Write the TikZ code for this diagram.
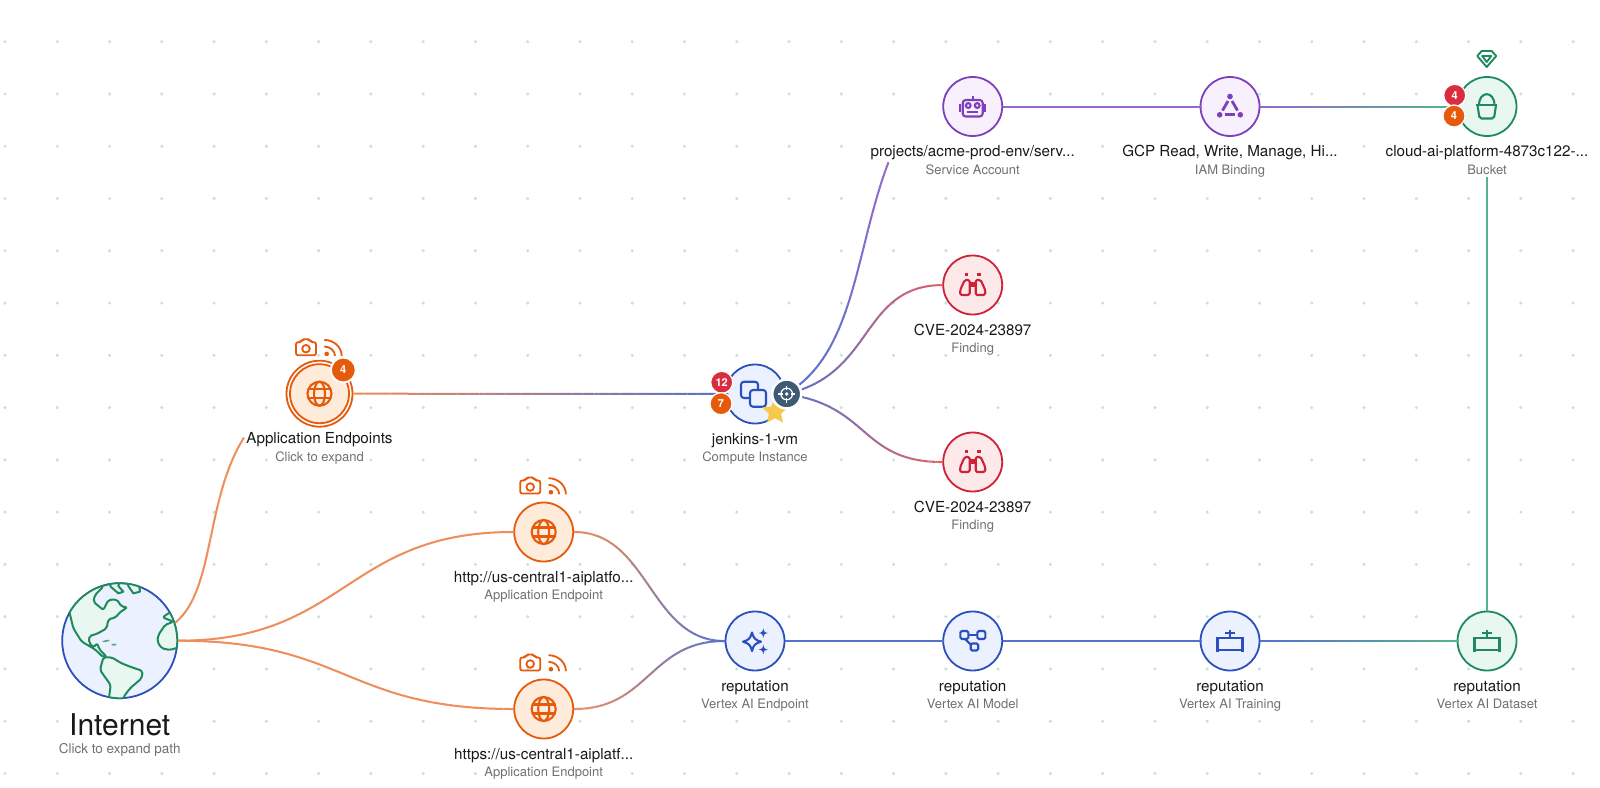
\documentclass[tikz,border=0pt]{standalone}
\usepackage{fontspec}
\setmainfont{TeX Gyre Heros}
\usetikzlibrary{calc,shapes.geometric,decorations.markings}

\definecolor{objblue}{HTML}{2B50BE}
\definecolor{objbluefill}{HTML}{EBF1FE}
\definecolor{objorange}{HTML}{E65A0C}
\definecolor{objorangefill}{HTML}{FFEBD9}
\definecolor{objpurple}{HTML}{7C3FBD}
\definecolor{objpurplefill}{HTML}{F8F1FD}
\definecolor{objred}{HTML}{CE2238}
\definecolor{objredfill}{HTML}{FDE9EA}
\definecolor{objgreen}{HTML}{1F8A5E}
\definecolor{objgreenfill}{HTML}{E8F7EF}
\definecolor{linkblue}{HTML}{5670CC}
\definecolor{linkorange}{HTML}{EE8C5A}
\definecolor{linkpurple}{HTML}{9468CC}
\definecolor{linkred}{HTML}{DB5F6B}
\definecolor{linkgreen}{HTML}{55B48C}
\definecolor{griddot}{HTML}{BFE6DC}
\definecolor{badgered}{HTML}{D92D3F}
\definecolor{badgeslate}{HTML}{3F5A73}
\definecolor{starcolor}{HTML}{F5C94A}
\definecolor{kindgray}{HTML}{707070}

\tikzset{
  objcircle/.style={circle,draw=#1,fill=#1fill,line width=1.8pt,minimum size=59pt,inner sep=0pt},
  titletext/.style={fill=white,anchor=base,inner sep=1pt,text=black!90,font=\fontsize{15.2}{15}\selectfont},
  kindtext/.style={fill=white,anchor=base,inner sep=1pt,text=kindgray,font=\fontsize{13}{13}\selectfont},
  badge/.style={circle,fill=#1,draw=white,line width=1.2pt,minimum size=22pt,inner sep=0pt,text=white,
    font=\fontsize{11}{11}\bfseries\selectfont},
  pics/globeicon/.style={code={
    \draw (0,0) circle (12);
    \draw (0,0) ellipse (5.5 and 12);
    \draw (-11,-4.5) -- (11,-4.5);
    \draw (-11,4.5) -- (11,4.5);
  }},
  pics/camicon/.style={code={
    \draw[rounded corners=2pt] (-10,-5) -- (-5,-5) -- (-3.5,-8) -- (3.5,-8) -- (5,-5) -- (10,-5) -- (10,8) -- (-10,8) -- cycle;
    \draw (0,1.5) circle (3.8);
  }},
  pics/rssicon/.style={code={
    \fill (-6.3,6.7) circle (2.3);
    \draw (-8.7,-.7) .. controls (-3,-.7) and (2,3.5) .. (2,8.7);
    \draw (-8.7,-7.3) .. controls (1,-7.3) and (8.7,0) .. (8.7,8.7);
  }},
  pics/roboticon/.style={code={
    \draw[rounded corners=3pt] (-10,-6.5) rectangle (10,10);
    \draw (-4.5,-1) circle (2.4);
    \draw (4.5,-1) circle (2.4);
    \draw (-5.5,5.5) -- (5.5,5.5);
    \draw (0,-6.5) -- (0,-11);
    \draw (-12.5,-3) -- (-12.5,5);
    \draw (12.5,-3) -- (12.5,5);
  }},
  pics/trianicon/.style={code={
    \fill (0,-10) circle (2.8);
    \fill (-10.3,8.3) circle (2.8);
    \fill (10.3,8.3) circle (2.8);
    \draw[line width=2.8pt] (-2,-5.5) -- (-7.5,4);
    \draw[line width=2.8pt] (2,-5.5) -- (7.5,4);
    \draw[line width=2.8pt] (-5,8.3) -- (5,8.3);
  }},
  pics/bucketicon/.style={code={
    \draw (-11,-1.3) -- (10,-1.3);
    \draw[rounded corners=2pt] (-9.5,-1.3) -- (-7.5,12) -- (7,12) -- (9,-1.3);
    \draw (-8,-1.3) .. controls (-8,-16) and (7.5,-16) .. (7.5,-1.3);
  }},
  pics/gemicon/.style={code={
    \draw[line join=round] (-9.5,-3) -- (-5,-8) -- (5,-8) -- (9.5,-3) -- (0,8) -- cycle;
    \draw[line join=round] (-4.5,-3) -- (0,3) -- (4.5,-3) -- cycle;
  }},
  pics/binocicon/.style={code={
    \draw[rounded corners=1.5pt,line join=round] (-3,10) -- (-3,-5) -- (-8,-5) -- (-12.5,5) -- (-12.5,10) -- cycle;
    \draw[rounded corners=1.5pt,line join=round] (3,10) -- (3,-5) -- (8,-5) -- (12.5,5) -- (12.5,10) -- cycle;
    \draw[line width=2.6pt] (-8,-10.5) -- (-4.5,-10.5);
    \draw[line width=2.6pt] (8,-10.5) -- (4.5,-10.5);
    \fill (-3,-3) rectangle (3,2);
  }},
  pics/copyicon/.style={code={
    \draw[rounded corners=3pt] (-5,-4) rectangle (11,12.7);
    \draw[rounded corners=3pt] (3,-4) -- (3,-12.3) -- (-14,-12.3) -- (-14,4) -- (-5,4);
  }},
  pics/sparkicon/.style={code={
    \draw[line join=round] (-3,-8.5) .. controls (-1.5,-3) and (0,-1) .. (6,.7)
      .. controls (0,2.5) and (-1.5,4) .. (-3,10)
      .. controls (-4.5,4) and (-6,2.5) .. (-12,.7)
      .. controls (-6,-1) and (-4.5,-3) .. cycle;
    \fill (8.3,-13) .. controls (8.8,-9.5) and (9.5,-8.5) .. (13,-8)
      .. controls (9.5,-7.5) and (8.8,-6.5) .. (8.3,-3)
      .. controls (7.8,-6.5) and (7.1,-7.5) .. (3.6,-8)
      .. controls (7.1,-8.5) and (7.8,-9.5) .. cycle;
    \fill (8.3,3.5) .. controls (8.8,7) and (9.5,8) .. (13,8.5)
      .. controls (9.5,9) and (8.8,10) .. (8.3,13.5)
      .. controls (7.8,10) and (7.1,9) .. (3.6,8.5)
      .. controls (7.1,8) and (7.8,7) .. cycle;
  }},
  pics/modelicon/.style={code={
    \draw[rounded corners=1.5pt] (-12.3,-10) rectangle (-4.3,-2);
    \draw[rounded corners=1.5pt] (4.7,-10) rectangle (12.7,-2);
    \draw[rounded corners=1.5pt] (-2,2.5) rectangle (5.5,9.5);
    \draw (-4.3,-6) -- (4.7,-6);
    \draw (-7.5,-2) -- (-2,3.5);
  }},
  pics/pipeicon/.style={code={
    \draw (-12.5,-3) -- (12.5,-3);
    \draw (-12.5,8.7) -- (12.5,8.7);
    \draw (-12.5,-4.5) -- (-12.5,10.5);
    \draw (12.5,-4.5) -- (12.5,10.5);
    \draw (0,-11.5) -- (0,-3);
    \draw (-5,-8) -- (5,-8);
  }},
  pics/targeticon/.style={code={
    \draw (0,0) circle (5.8);
    \fill (0,0) circle (1.8);
    \draw (0,-8.5) -- (0,-4);
    \draw (0,8.5) -- (0,4);
    \draw (-8.5,0) -- (-4,0);
    \draw (8.5,0) -- (4,0);
  }},
}

% circle with its icon and the two text lines under it
\newcommand{\objnode}[6]{
  \node[objcircle=#3] (#1) at (#2) {};
  \pic[color=#3,line width=2.1pt] at (#1) {#4};
  \node[titletext] (#1title) at ($(#1)+(0,50)$) {#5};
  \node[kindtext] (#1kind) at ($(#1)+(0,67.5)$) {#6};
}
% camera and feed icons above an endpoint
\newcommand{\feedicons}[1]{
  \pic[color=objorange,line width=1.8pt] at ($(#1)+(-13.5,-46.5)$) {camicon};
  \pic[color=objorange,line width=1.8pt] at ($(#1)+(13.5,-46.5)$) {rssicon};
}
% connector whose colour runs from #1 to #2 along path #3
\newcommand{\fadelink}[3]{
  \path[decorate,decoration={markings,
    mark=between positions 0 and 1 step 0.01 with {
      \pgfmathsetlengthmacro\seglen{0.0105*\pgfdecoratedpathlength}
      \pgfmathtruncatemacro\mixval{min(100,\pgfkeysvalueof{/pgf/decoration/mark info/sequence number})}
      \draw[line width=2pt,#2!\mixval!#1] (0,0) -- (\seglen,0);
    }}] #3;
}

\begin{document}
\begin{tikzpicture}[x=1pt,y=-1pt]
  \useasboundingbox (0,0) rectangle (1600,787);
  \fill[white] (0,0) rectangle (1600,787);

  % background dots
  \foreach \i in {0,...,30}
    \foreach \j in {0,...,14}
      \fill[griddot] ({5+52.27*\i},{41.7+52.27*\j}) circle (1.7);

  % internet
  \node[circle,draw=objblue,fill=objbluefill,line width=1.8pt,minimum size=115pt,inner sep=0pt] (inet) at (119.7,640.7) {};
  \begin{scope}[shift={(40,560)},x=.3333pt,y=-.3333pt]
    \clip (239,242) circle (173);
    \draw[objgreen,fill=objgreenfill,line width=2pt,line join=round,rounded corners=2pt]
      (88,155) -- (100,205) -- (125,245) -- (165,268) -- (190,292) -- (200,290) -- (178,268) -- (172,250) -- (160,262)
      -- (147,248) -- (148,228) -- (170,222) -- (200,205) -- (205,178) -- (228,172) -- (238,158) -- (262,142) -- (245,140)
      -- (230,118) -- (205,120) -- (190,150) -- (160,125) -- (165,105) -- (190,80) -- (185,50) -- (60,100) -- cycle;
    \draw[objgreen,fill=objgreenfill,line width=2pt,line join=round,rounded corners=2pt]
      (190,292) -- (215,292) -- (245,310) -- (270,320) -- (308,333) -- (305,355) -- (270,385) -- (250,412) -- (250,430)
      -- (205,430) -- (212,375) -- (180,330) -- cycle;
    \draw[objgreen,fill=objgreenfill,line width=2pt,line join=round]
      (208,60) -- (212,80) -- (235,100) -- (250,95) -- (235,78) -- (240,60) -- cycle;
    \draw[objgreen,fill=objgreenfill,line width=2pt,line join=round]
      (262,60) -- (265,78) -- (280,100) -- (300,95) -- (295,60) -- cycle;
    \draw[objgreen,fill=objgreenfill,line width=2pt,line join=round,rounded corners=2pt]
      (430,150) -- (388,158) -- (368,172) -- (400,185) -- (375,195) -- (355,225) -- (352,245) -- (365,265) -- (390,270) -- (430,258) -- cycle;
    \fill[objgreen!70!objgreenfill,rotate around={12:(198,243)}] (198,243) ellipse (11 and 3);
    \fill[objgreen!70!objgreenfill] (222,254) ellipse (8 and 3);
  \end{scope}
  % green rim where the land meets the edge
  \foreach \a/\b/\c/\d in {60/570/141/612, 160/612/180/648, 108/680/124/700} {
    \begin{scope}
      \clip (\a,\b) rectangle (\c,\d);
      \draw[objgreen,line width=1.8pt] (inet) circle (57.5);
    \end{scope}
  }
  \node[titletext,font=\fontsize{30}{30}\selectfont] (inettitle) at ($(inet)+(0,94.5)$) {Internet};
  \node[kindtext,font=\fontsize{13.5}{13}\selectfont] (inetkind) at ($(inet)+(0,113)$) {Click to expand path};

  % application endpoints
  \node[objcircle=objorange,fill=white,minimum size=66pt] (appring) at (319.5,393.7) {};
  \objnode{app}{319.5,393.7}{objorange}{globeicon}{Application Endpoints}{Click to expand}
  \feedicons{app}
  \node[badge=objorange,line width=2pt,minimum size=25pt] (appbadge) at (343.3,370) {4};

  \objnode{http}{543.7,532}{objorange}{globeicon}{http://us-central1-aiplatfo...}{Application Endpoint}
  \feedicons{http}
  \objnode{https}{543.7,709}{objorange}{globeicon}{https://us-central1-aiplatf...}{Application Endpoint}
  \feedicons{https}

  % jenkins
  \objnode{vm}{755,394}{objblue}{copyicon}{jenkins-1-vm}{Compute Instance}

  % top row
  \objnode{sa}{972.7,106.5}{objpurple}{roboticon}{projects/acme-prod-env/serv...}{Service Account}
  \objnode{iam}{1230,106.5}{objpurple}{trianicon}{GCP Read, Write, Manage, Hi...}{IAM Binding}
  \objnode{bucket}{1487,106.5}{objgreen}{bucketicon}{cloud-ai-platform-4873c122-...}{Bucket}
  \pic[color=objgreen,line width=1.9pt] at (1486.7,59) {gemicon};

  % findings
  \objnode{cveup}{972.7,285}{objred}{binocicon}{CVE-2024-23897}{Finding}
  \objnode{cvedown}{972.7,462}{objred}{binocicon}{CVE-2024-23897}{Finding}

  % vertex row
  \objnode{endpoint}{755,641}{objblue}{sparkicon}{reputation}{Vertex AI Endpoint}
  \objnode{model}{972.7,641}{objblue}{modelicon}{reputation}{Vertex AI Model}
  \objnode{training}{1230,641}{objblue}{pipeicon}{reputation}{Vertex AI Training}
  \objnode{dataset}{1487,641}{objgreen}{pipeicon}{reputation}{Vertex AI Dataset}

  % free ends of the connectors that stop at a label
  \coordinate (append) at (243.7,438);
  \coordinate (saend) at (888.3,162.7);
  \coordinate (bucketend) at (1487,181.5);

  % connectors
  \fadelink{linkorange}{linkorange}{(inet.18) .. controls (215,590) and (205,500) .. (append)}
  \fadelink{linkorange}{linkorange}{(inet.east) .. controls +(168,0) and +(-168,0) .. (http.west)}
  \fadelink{linkorange}{linkorange}{(inet.east) .. controls +(168,0) and +(-168,0) .. (https.west)}
  \fadelink{linkorange}{linkblue}{(appring.east) -- (vm.west)}
  \fadelink{linkorange}{linkblue}{(http.east) .. controls +(75,0) and +(-75,0) .. (endpoint.west)}
  \fadelink{linkorange}{linkblue}{(https.east) .. controls +(75,0) and +(-75,0) .. (endpoint.west)}
  \fadelink{linkblue}{linkblue}{(endpoint.east) -- (model.west)}
  \fadelink{linkblue}{linkblue}{(model.east) -- (training.west)}
  \fadelink{linkblue}{linkgreen}{(training.east) -- (dataset.west)}
  \fadelink{linkgreen}{linkgreen}{(dataset.north) -- (bucketend)}
  \fadelink{linkpurple}{linkpurple}{(sa.east) -- (iam.west)}
  \fadelink{linkpurple}{linkgreen}{(iam.east) -- (bucket.west)}
  \fadelink{linkblue}{linkpurple}{(vm.east) .. controls (855,355) and (855,250) .. (saend)}
  \fadelink{linkblue}{linkred}{(vm.east) .. controls (875,375) and (860,286) .. (cveup.west)}
  \fadelink{linkblue}{linkred}{(vm.east) .. controls (870,405) and (860,462) .. (cvedown.west)}

  % badges
  \node[badge=badgered] (vmred) at (721.7,382.3) {12};
  \node[badge=objorange] (vmorange) at (721,403.7) {7};
  \node[star,star points=5,star point ratio=2.1,fill=starcolor,minimum size=27pt,inner sep=0pt] (vmstar) at (775,411.7) {};
  \node[circle,fill=badgeslate,draw=white,line width=2.5pt,minimum size=29pt,inner sep=0pt] (vmtarget) at (786.7,394) {};
  \pic[color=white,line width=1.2pt] at (vmtarget) {targeticon};
  \node[badge=badgered] (bucketred) at (1454.7,95.3) {4};
  \node[badge=objorange] (bucketorange) at (1454,116) {4};
\end{tikzpicture}
\end{document}
